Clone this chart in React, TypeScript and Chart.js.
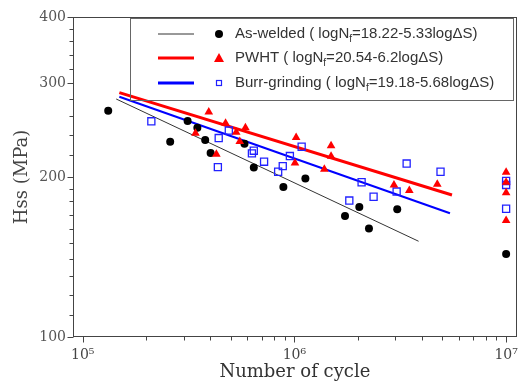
import React, { useEffect, useRef } from 'react';
import { Chart, registerables } from 'chart.js';

Chart.register(...registerables);

// ---- data ----
const asWeldedN = [1.32e5, 2.59e5, 3.13e5, 3.48e5, 3.79e5, 4.02e5, 5.81e5, 6.43e5, 8.87e5, 1.127e6, 1.734e6, 2.026e6, 2.25e6, 3.06e6, 1.0e7];
const asWeldedS = [266.5, 233, 255, 247.5, 234.7, 222, 231, 208.5, 191.6, 198.8, 169, 175.6, 160, 174, 143.3];

const pwhtN = [3.94e5, 4.73e5, 5.87e5, 3.41e5, 5.31e5, 5.52e5, 4.28e5, 1.019e6, 1.006e6, 1.49e6, 1.49e6, 1.385e6, 2.953e6, 3.49e6, 4.73e6, 1e7, 1e7, 1e7, 1e7];
const pwhtS = [265.1, 252.4, 247.6, 241.7, 242.8, 233.3, 220.7, 237.3, 212.5, 229, 218.8, 206.8, 193.2, 188.6, 193.9, 204.2, 195.5, 186.8, 165.6];

const burrN = [2.11e5, 4.39e5, 4.9e5, 4.35e5, 6.43e5, 6.3e5, 7.19e5, 8.38e5, 8.81e5, 9.52e5, 1.082e6, 1.817e6, 2.077e6, 2.366e6, 3.04e6, 3.39e6, 4.9e6, 1e7, 1e7, 1e7];
const burrS = [254.6, 236.8, 244.6, 208.8, 224.1, 221.6, 213.7, 204.6, 209.6, 219, 228, 180.6, 195.5, 183.6, 187.8, 212, 204.6, 196.6, 193.2, 174.3];

// regression lines (end points)
const asWeldedFitN = [1.44e5, 3.86e6];
const asWeldedFitS = [280.4, 151.4];
const pwhtFitN = [1.49e5, 5.55e6];
const pwhtFitS = [288.3, 185.0];
const burrFitN = [1.49e5, 5.43e6];
const burrFitS = [283.2, 170.9];

// axes
const xMin = 9.0e4;
const xMax = 1.122e7;
const yMin = 100;
const yMax = 400;
const xMajorTicks = [1e5, 1e6, 1e7];
const xMinorTicks = [2e5, 3e5, 4e5, 5e5, 6e5, 7e5, 8e5, 9e5, 2e6, 3e6, 4e6, 5e6, 6e6, 7e6, 8e6, 9e6];
const yMajorTicks = [100, 200, 300, 400];
const yMinorTicks = [110, 120, 130, 140, 150, 160, 170, 180, 190, 220, 240, 260, 280, 320, 340, 360, 380];
const supDigits: Record<string, string> = { '5': '\u2075', '6': '\u2076', '7': '\u2077' };

// legend
const legendPrefix = ['As-welded ( logN', 'PWHT ( logN', 'Burr-grinding ( logN'];
const legendSub = 'f';
const legendSuffix = ['=18.22-5.33log\u0394S)', '=20.54-6.2log\u0394S)', '=19.18-5.68log\u0394S)'];

const pts = (xs: number[], ys: number[]) => xs.map((x, i) => ({ x, y: ys[i] }));

const SERIF = '"DejaVu Serif", serif';
const SANS = '"Liberation Sans", Arial, sans-serif';

const decorPlugin = {
  id: 'decor',
  afterDraw(chart: any) {
    const { ctx, chartArea: a, scales } = chart;
    const xs = scales.x;
    const ys = scales.y;
    ctx.save();
    ctx.strokeStyle = '#444';
    ctx.lineWidth = 1;
    ctx.strokeRect(Math.round(a.left) + 0.5, Math.round(a.top) + 0.5, Math.round(a.right - a.left) - 1, Math.round(a.bottom - a.top) - 1);
    ctx.beginPath();
    const yl = Math.round(a.left) + 0.5;
    yMajorTicks.forEach((v) => {
      const p = Math.round(ys.getPixelForValue(v)) + 0.5;
      ctx.moveTo(yl - 6, p);
      ctx.lineTo(yl, p);
    });
    yMinorTicks.forEach((v) => {
      const p = Math.round(ys.getPixelForValue(v)) + 0.5;
      ctx.moveTo(yl - 4, p);
      ctx.lineTo(yl, p);
    });
    const xb = Math.round(a.bottom) - 0.5;
    xMajorTicks.forEach((v) => {
      const p = Math.round(xs.getPixelForValue(v)) + 0.5;
      ctx.moveTo(p, xb);
      ctx.lineTo(p, xb + 6);
    });
    xMinorTicks.forEach((v) => {
      const p = Math.round(xs.getPixelForValue(v)) + 0.5;
      ctx.moveTo(p, xb);
      ctx.lineTo(p, xb + 4);
    });
    ctx.stroke();

    // legend box
    ctx.strokeStyle = '#666';
    ctx.strokeRect(130.5, 18.5, 383, 82);
    const rowsY = [34, 58, 83];
    const lineColors = ['#333333', '#ff0000', '#0000ff'];
    const lineWidths = [1, 3, 3];
    rowsY.forEach((y, i) => {
      ctx.beginPath();
      ctx.strokeStyle = lineColors[i];
      ctx.lineWidth = lineWidths[i];
      ctx.moveTo(158, y);
      ctx.lineTo(194, y);
      ctx.stroke();
      // marker
      if (i === 0) {
        ctx.fillStyle = '#000';
        ctx.beginPath();
        ctx.arc(219, y, 4, 0, Math.PI * 2);
        ctx.fill();
      } else if (i === 1) {
        ctx.fillStyle = '#ff0000';
        ctx.beginPath();
        ctx.moveTo(219, y - 5);
        ctx.lineTo(224, y + 4);
        ctx.lineTo(214, y + 4);
        ctx.closePath();
        ctx.fill();
      } else {
        ctx.strokeStyle = '#2222ff';
        ctx.lineWidth = 1.2;
        ctx.strokeRect(216.5, y - 2.5, 5, 5);
      }
      ctx.fillStyle = '#333';
      ctx.textBaseline = 'middle';
      ctx.textAlign = 'left';
      ctx.font = '15px ' + SANS;
      ctx.fillText(legendPrefix[i], 235, y);
      const w1 = ctx.measureText(legendPrefix[i]).width;
      ctx.font = '10px ' + SANS;
      ctx.fillText(legendSub, 235 + w1, y + 5);
      const w2 = ctx.measureText(legendSub).width;
      ctx.font = '15px ' + SANS;
      ctx.fillText(legendSuffix[i], 235 + w1 + w2, y);
    });
    ctx.restore();
  },
};

export default function App() {
  const ref = useRef<HTMLCanvasElement | null>(null);
  useEffect(() => {
    if (!ref.current) return;
    const chart = new Chart(ref.current, {
      type: 'scatter',
      data: {
        datasets: [
          {
            label: 'PWHT',
            data: pts(pwhtN, pwhtS),
            pointStyle: 'triangle',
            pointRadius: 5,
            backgroundColor: '#ff0000',
            borderColor: '#ff0000',
            borderWidth: 0,
          },
          {
            label: 'As-welded',
            data: pts(asWeldedN, asWeldedS),
            pointStyle: 'circle',
            pointRadius: 4,
            backgroundColor: '#000000',
            borderColor: '#000000',
            borderWidth: 0,
          },
          {
            label: 'Burr-grinding',
            data: pts(burrN, burrS),
            pointStyle: 'rect',
            pointRadius: 5,
            backgroundColor: 'rgba(0,0,0,0)',
            borderColor: '#2222ff',
            borderWidth: 1.3,
          },
          {
            label: 'Burr fit',
            data: pts(burrFitN, burrFitS),
            showLine: true,
            pointRadius: 0,
            borderColor: '#0000ff',
            borderWidth: 2,
          },
          {
            label: 'PWHT fit',
            data: pts(pwhtFitN, pwhtFitS),
            showLine: true,
            pointRadius: 0,
            borderColor: '#ff0000',
            borderWidth: 3,
          },
          {
            label: 'As-welded fit',
            data: pts(asWeldedFitN, asWeldedFitS),
            showLine: true,
            pointRadius: 0,
            borderColor: '#333333',
            borderWidth: 1,
          },
        ],
      },
      plugins: [decorPlugin],
      options: {
        animation: false,
        responsive: false,
        devicePixelRatio: 1,
        layout: { padding: { top: 17, right: 6, left: 0, bottom: 0 } },
        plugins: { legend: { display: false }, tooltip: { enabled: false } },
        scales: {
          x: {
            type: 'logarithmic',
            min: xMin,
            max: xMax,
            border: { display: false },
            grid: { display: false, drawTicks: false },
            afterBuildTicks: (s: any) => {
              s.ticks = xMajorTicks.map((v) => ({ value: v }));
            },
            afterFit: (s: any) => {
              s.height = 52;
              s.paddingLeft = 0;
              s.paddingRight = 0;
            },
            ticks: {
              padding: 10,
              maxRotation: 0,
              autoSkip: false,
              color: '#444',
              font: { family: SERIF, size: 14 },
              callback: (v: any) => {
                const e = String(Math.round(Math.log10(Number(v))));
                return '10' + (supDigits[e] || e);
              },
            },
            title: {
              display: true,
              text: 'Number of cycle',
              color: '#333',
              font: { family: SERIF, size: 18 },
              padding: { top: 0, bottom: 6 },
            },
          },
          y: {
            type: 'logarithmic',
            min: yMin,
            max: yMax,
            border: { display: false },
            grid: { display: false, drawTicks: false },
            afterBuildTicks: (s: any) => {
              s.ticks = yMajorTicks.map((v) => ({ value: v }));
            },
            afterFit: (s: any) => {
              s.width = 73;
              s.paddingTop = 0;
              s.paddingBottom = 0;
            },
            ticks: {
              padding: 7,
              autoSkip: false,
              color: '#555',
              font: { family: SERIF, size: 14 },
              callback: (v: any) => String(v),
            },
            title: {
              display: true,
              text: 'Hss (MPa)',
              color: '#444',
              font: { family: SERIF, size: 18 },
              padding: { top: 12, bottom: 0 },
            },
          },
        },
      },
    });
    return () => chart.destroy();
  }, []);
  return (
    <div style={{ position: 'fixed', left: 0, top: 0, width: 523, height: 389, background: '#fff' }}>
      <canvas ref={ref} width={523} height={389} style={{ width: 523, height: 389, display: 'block' }} />
    </div>
  );
}
